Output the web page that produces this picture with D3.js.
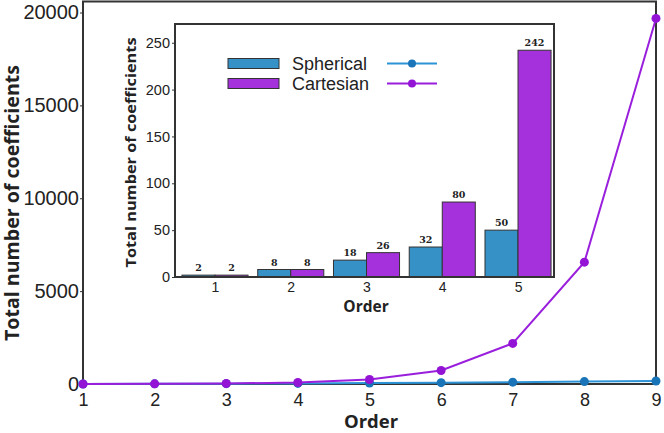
<!DOCTYPE html>
<html>
<head>
<meta charset="utf-8">
<script src="https://cdn.jsdelivr.net/npm/d3@7"></script>
<style>
  body { margin: 0; background: #fff; }
  svg { display: block; }
</style>
</head>
<body>
<div id="chart"></div>
<script>
(function(d3) {
  'use strict';

  // main chart data
  var orders = [1, 2, 3, 4, 5, 6, 7, 8, 9];
  var spherical = [2, 8, 18, 32, 50, 72, 98, 128, 162];
  var cartesian = [2, 8, 26, 80, 242, 728, 2186, 6560, 19682];
  var yTicks = [0, 5000, 10000, 15000, 20000];

  // inset data
  var insetOrders = [1, 2, 3, 4, 5];
  var insetSpherical = [2, 8, 18, 32, 50];
  var insetCartesian = [2, 8, 26, 80, 242];
  var insetTicks = [0, 50, 100, 150, 200, 250];
  var seriesNames = ['Spherical', 'Cartesian'];

  var width = 664;
  var height = 433;

  var barColor = { Spherical: '#3591c6', Cartesian: '#a431dc' };
  var lineColor = { Spherical: '#2b93d6', Cartesian: '#9a1fdc' };
  var dotColor = { Spherical: '#1a74b8', Cartesian: '#9414d6' };
  var tickFont = 'Liberation Sans, Arial, sans-serif';
  var boldFont = 'Open Sans, Noto Sans, sans-serif';

  var svg = d3.select('#chart')
    .append('svg')
    .attr('width', width)
    .attr('height', height);

  // ---------- main chart ----------
  var x = d3.scaleLinear().domain([1, 9]).range([83, 656]);
  var y = d3.scaleLinear().domain([0, 20000]).range([384, 12.5]);

  svg.append('rect')
    .attr('x', 83).attr('y', 1.5)
    .attr('width', 656 - 83).attr('height', 384 - 1.5)
    .attr('fill', 'none')
    .attr('stroke', '#333')
    .attr('stroke-width', 2);

  var yAxis = svg.append('g')
    .attr('transform', 'translate(83,0)')
    .call(d3.axisLeft(y).tickValues(yTicks).tickSize(3).tickPadding(1).tickFormat(d3.format('d')));
  yAxis.select('.domain').remove();
  yAxis.selectAll('line').attr('stroke', '#333');
  yAxis.selectAll('text')
    .attr('font-family', tickFont)
    .attr('font-size', 20)
    .attr('fill', '#222');

  var xAxis = svg.append('g')
    .attr('transform', 'translate(0,384)')
    .call(d3.axisBottom(x).tickValues(orders).tickSize(0).tickPadding(9).tickFormat(d3.format('d')));
  xAxis.select('.domain').remove();
  xAxis.selectAll('text')
    .attr('font-family', tickFont)
    .attr('font-size', 18)
    .attr('fill', '#222');

  svg.append('text')
    .attr('x', 371).attr('y', 428)
    .attr('text-anchor', 'middle')
    .attr('font-family', boldFont)
    .attr('font-weight', 'bold')
    .attr('font-size', 18.5)
    .attr('fill', '#222')
    .text('Order');

  svg.append('text')
    .attr('transform', 'translate(19,203) rotate(-90)')
    .attr('text-anchor', 'middle')
    .attr('font-family', boldFont)
    .attr('font-weight', 'bold')
    .attr('font-size', 19)
    .attr('textLength', 276)
    .attr('lengthAdjust', 'spacingAndGlyphs')
    .attr('fill', '#222')
    .text('Total number of coefficients');

  var line = d3.line()
    .x(function(d) { return x(d.x); })
    .y(function(d) { return y(d.y); });

  var mainSeries = [
    { name: 'Spherical', values: spherical },
    { name: 'Cartesian', values: cartesian }
  ];

  mainSeries.forEach(function(s) {
    var pts = orders.map(function(o, i) { return { x: o, y: s.values[i] }; });
    svg.append('path')
      .datum(pts)
      .attr('d', line)
      .attr('fill', 'none')
      .attr('stroke', lineColor[s.name])
      .attr('stroke-width', 2);
    svg.selectAll(null)
      .data(pts)
      .enter()
      .append('circle')
      .attr('cx', function(d) { return x(d.x); })
      .attr('cy', function(d) { return y(d.y); })
      .attr('r', 4.5)
      .attr('fill', dotColor[s.name]);
  });

  // ---------- inset ----------
  var ix = d3.scaleLinear().domain([0.472, 5.475]).range([175, 554]);
  var iy = d3.scaleLinear().domain([0, 270]).range([277, 24]);
  var barW = ix(1.436) - ix(1);

  var inset = svg.append('g');

  inset.append('rect')
    .attr('x', 175).attr('y', 24)
    .attr('width', 554 - 175).attr('height', 277 - 24)
    .attr('fill', '#fff');

  var groups = insetOrders.map(function(o, i) {
    return { order: o, Spherical: insetSpherical[i], Cartesian: insetCartesian[i] };
  });

  seriesNames.forEach(function(name, k) {
    inset.selectAll(null)
      .data(groups)
      .enter()
      .append('rect')
      .attr('x', function(d) { return ix(d.order) - barW + k * barW; })
      .attr('y', function(d) { return iy(d[name]); })
      .attr('width', barW)
      .attr('height', function(d) { return iy(0) - iy(d[name]); })
      .attr('fill', barColor[name])
      .attr('stroke', '#333')
      .attr('stroke-width', 1);

    inset.selectAll(null)
      .data(groups)
      .enter()
      .append('text')
      .attr('x', function(d) { return ix(d.order) - barW / 2 + k * barW; })
      .attr('y', function(d) { return iy(d[name]) - 4; })
      .attr('text-anchor', 'middle')
      .attr('font-family', 'DejaVu Serif, serif')
      .attr('font-weight', 'bold')
      .attr('font-size', 9.5)
      .attr('fill', '#222')
      .text(function(d) { return d[name]; });
  });

  inset.append('rect')
    .attr('x', 175).attr('y', 24)
    .attr('width', 554 - 175).attr('height', 277 - 24)
    .attr('fill', 'none')
    .attr('stroke', '#333')
    .attr('stroke-width', 2);

  var iyAxis = inset.append('g')
    .attr('transform', 'translate(175,0)')
    .call(d3.axisLeft(iy).tickValues(insetTicks).tickSize(3).tickPadding(2));
  iyAxis.select('.domain').remove();
  iyAxis.selectAll('line').attr('stroke', '#333');
  iyAxis.selectAll('text')
    .attr('font-family', tickFont)
    .attr('font-size', 14.5)
    .attr('fill', '#222');

  var ixAxis = inset.append('g')
    .attr('transform', 'translate(0,277)')
    .call(d3.axisBottom(ix).tickValues(insetOrders).tickSize(0).tickPadding(5).tickFormat(d3.format('d')));
  ixAxis.select('.domain').remove();
  ixAxis.selectAll('text')
    .attr('font-family', tickFont)
    .attr('font-size', 14)
    .attr('fill', '#222');

  inset.append('text')
    .attr('x', 366).attr('y', 312)
    .attr('text-anchor', 'middle')
    .attr('font-family', boldFont)
    .attr('font-weight', 'bold')
    .attr('font-size', 15.5)
    .attr('fill', '#222')
    .text('Order');

  inset.append('text')
    .attr('transform', 'translate(136,152.5) rotate(-90)')
    .attr('text-anchor', 'middle')
    .attr('font-family', boldFont)
    .attr('font-weight', 'bold')
    .attr('font-size', 15)
    .attr('textLength', 230)
    .attr('lengthAdjust', 'spacingAndGlyphs')
    .attr('fill', '#222')
    .text('Total number of coefficients');

  // legend
  var legend = inset.append('g');
  seriesNames.forEach(function(name, k) {
    var cy = 63.5 + k * 20;
    legend.append('rect')
      .attr('x', 228).attr('y', cy - 5)
      .attr('width', 51).attr('height', 10)
      .attr('fill', barColor[name])
      .attr('stroke', '#333')
      .attr('stroke-width', 1);
    legend.append('text')
      .attr('x', 292).attr('y', cy + 6)
      .attr('font-family', tickFont)
      .attr('font-size', 18)
      .attr('fill', '#222')
      .text(name);
    legend.append('line')
      .attr('x1', 387).attr('x2', 437)
      .attr('y1', cy).attr('y2', cy)
      .attr('stroke', lineColor[name])
      .attr('stroke-width', 2);
    legend.append('circle')
      .attr('cx', 412).attr('cy', cy)
      .attr('r', 4)
      .attr('fill', dotColor[name]);
  });
})(window.d3);
</script>
</body>
</html>
